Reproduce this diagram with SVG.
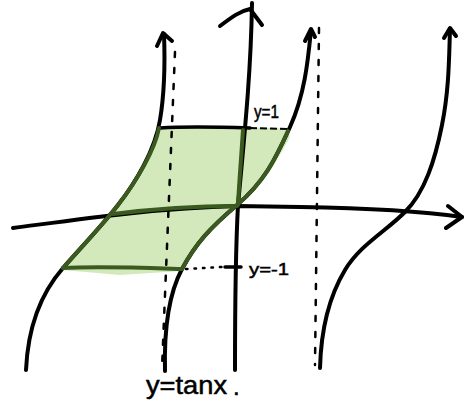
<svg xmlns="http://www.w3.org/2000/svg" width="464" height="413" viewBox="0 0 464 413">
<style>
.ink{fill:none;stroke:#000;stroke-width:4;stroke-linecap:round;stroke-linejoin:round}
.grn{fill:none;stroke:#3b5a1f;stroke-width:4;stroke-linecap:round;stroke-linejoin:round}
.dash{fill:none;stroke:#000;stroke-width:2.5;stroke-dasharray:5 11;stroke-linecap:round}
.dot{fill:none;stroke:#000;stroke-width:2.5;stroke-dasharray:1.5 7;stroke-linecap:round}
.lbl{font-family:"Liberation Sans",Arial,sans-serif;fill:#000;stroke:#000;stroke-width:0.5}
</style>
<rect width="464" height="413" fill="#fff"/>
<g id="region">
<path d="M63,268 C84,244 100,228 118,205 S155,150 160,128 L276,130 Q290,131 287,138 C275,160 264,182 237,205 C210,228 196,243 182,269 L120,273 L63,268 Z" fill="#d3e9bc" stroke="#d3e9bc" stroke-width="4" stroke-linejoin="round"/>
</g>
<g id="asymptotes">
<path class="dash" d="M175,52 L162,368"/>
<path class="dash" d="M319,28 L315,365"/>
</g>
<g id="axes">
<path class="ink" d="M13,228 C60,222 150,208 237,206 L300,207 C360,208 420,211 462,217"/>
<path class="ink" d="M448,206 L462,217 L446,228"/>
<path class="ink" d="M252,3 C251,70 245,130 238,205 C235,260 235,320 235,370"/>
<path class="ink" d="M220,26 C232,17 240,11 250,9 L262,25"/>
</g>
<g id="curves">
<path class="ink" d="M26,370 C28,325 42,292 63,268 S100,228 118,205 S155,150 160,120 S165,60 164,34"/>
<path class="ink" d="M157,46 L163,33 L172,41"/>
<path class="ink" d="M165,371 C164,330 168,295 182,269 S210,228 237,205 S275,160 290,127 S308,60 311,30"/>
<path class="ink" d="M305,41 L311,29 L315,37"/>
<path class="ink" d="M320,368 C321,330 330,295 345,270 S385,232 405,212 S435,160 442,125 S449,60 450,29"/>
<path class="ink" d="M444,38 L450,28 L456,36"/>
</g>
<g id="levels">
<path class="ink" d="M160,128 C190,126 220,127 250,128" style="stroke-width:3.5"/>
<path fill="none" stroke="#000" stroke-width="2" stroke-dasharray="7 3" d="M250,128 L290,129"/>
<path class="dot" d="M186,269 L222,267"/>
<path class="ink" d="M225,267 L241,267" style="stroke-width:3.5"/>
</g>
<g id="region-edges">
<path class="grn" d="M63,268 C84,244 100,228 118,205 S155,150 159,128"/>
<path class="grn" d="M182,269 C196,243 210,228 237,205 C264,182 275,160 288,131"/>
<path class="grn" d="M113,214 C160,208 200,206 237,206"/>
<path class="grn" d="M243,130 C241,160 239,185 238,205"/>
<path class="grn" d="M63,268 C100,266 150,268 182,269"/>
</g>
<g id="labels">
<text class="lbl" x="254" y="118" font-size="18" textLength="25" lengthAdjust="spacingAndGlyphs">y=1</text>
<text class="lbl" x="249" y="275" font-size="17" textLength="40" lengthAdjust="spacingAndGlyphs">y=-1</text>
<text class="lbl" x="146" y="394" font-size="25" textLength="81" lengthAdjust="spacingAndGlyphs">y=tanx</text>
<text class="lbl" x="233" y="395" font-size="24">.</text>
</g>
</svg>
